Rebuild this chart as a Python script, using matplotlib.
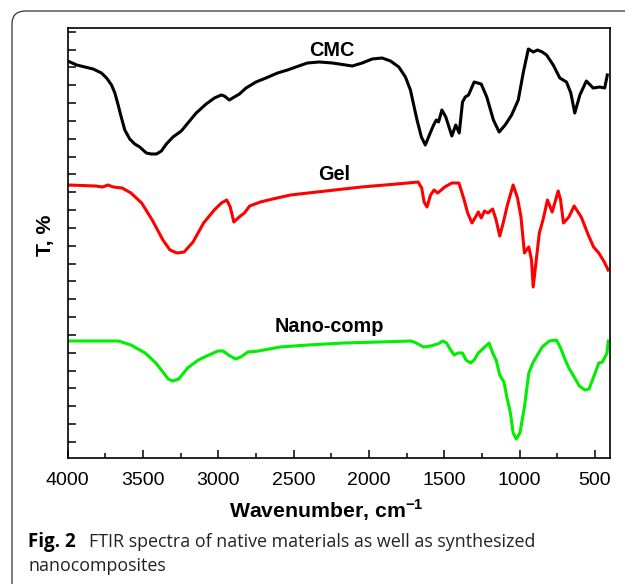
import numpy as np
import matplotlib
matplotlib.use("Agg")
import matplotlib.pyplot as plt
from matplotlib.patches import FancyBboxPatch

plt.rcParams['font.family'] = ['Liberation Sans', 'DejaVu Sans']
plt.rcParams['mathtext.fontset'] = 'custom'
plt.rcParams['mathtext.rm'] = 'Liberation Sans'
plt.rcParams['mathtext.bf'] = 'Liberation Sans:bold'

# FTIR spectra (arbitrary offset transmittance units)
cmc_wn = [4000, 3940, 3886, 3831, 3776, 3742, 3709, 3687, 3665, 3643, 3621, 3588, 3555, 3522,
          3478, 3445, 3411, 3378, 3345, 3301, 3246, 3202, 3147, 3081, 3026, 2981, 2960, 2927,
          2894, 2860, 2816, 2750, 2684, 2607, 2541, 2485, 2409, 2331, 2243, 2199, 2111, 2045,
          1979, 1913, 1857, 1802, 1758, 1725, 1703, 1681, 1652, 1626, 1599, 1571, 1553, 1538,
          1516, 1490, 1450, 1424, 1401, 1379, 1361, 1339, 1302, 1255, 1218, 1174, 1136, 1096,
          1053, 1009, 975, 942, 909, 881, 850, 821, 777, 733, 689, 660, 634, 600, 557, 512,
          468, 435, 418]
cmc_t = [397, 393, 391, 389, 385, 380, 373, 365, 353, 340, 328, 319, 314, 311,
         305, 304, 304, 307, 314, 321, 327, 335, 345, 354, 360, 363, 362, 358,
         361, 364, 370, 376, 380, 385, 388, 391, 395, 396, 395, 394, 392, 395,
         399, 400, 397, 391, 381, 368, 353, 338, 321, 313, 323, 333, 338, 336,
         348, 341, 322, 333, 325, 356, 361, 363, 376, 374, 361, 338, 326, 333,
         343, 358, 386, 409, 406, 408, 406, 403, 393, 380, 376, 365, 345, 363, 377, 370,
         371, 370, 383]

gel_wn = [4000, 3815, 3768, 3733, 3698, 3639, 3580, 3509, 3439, 3368, 3321, 3274, 3227, 3168,
          3098, 3027, 2980, 2944, 2921, 2897, 2862, 2827, 2792, 2721, 2639, 2521, 2286, 2050,
          1815, 1674, 1650, 1634, 1615, 1591, 1568, 1544, 1497, 1450, 1403, 1368, 1345, 1316,
          1293, 1274, 1255, 1233, 1210, 1179, 1156, 1132, 1109, 1081, 1043, 1014, 991, 968,
          939, 921, 910, 869, 845, 815, 784, 761, 744, 728, 709, 673, 638, 591, 544, 509,
          474, 438, 412]
gel_t = [273, 272, 271, 273, 271, 270, 265, 255, 238, 218, 208, 205, 206, 216,
         235, 248, 255, 258, 251, 236, 241, 245, 252, 256, 259, 263, 267, 271,
         274, 276, 270, 256, 251, 263, 268, 265, 271, 275, 275, 258, 245, 235,
         241, 246, 240, 247, 245, 249, 238, 222, 235, 253, 273, 260, 241, 205,
         211, 198, 171, 225, 238, 258, 246, 258, 267, 258, 235, 241, 252, 241, 223, 211,
         205, 196, 188]

nano_wn = [4000, 3815, 3663, 3580, 3486, 3415, 3368, 3333, 3302, 3263, 3204, 3133, 3062, 3003,
           2968, 2933, 2886, 2851, 2804, 2733, 2592, 2403, 2168, 1932, 1721, 1686, 1638, 1591,
           1544, 1509, 1485, 1462, 1434, 1410, 1379, 1356, 1325, 1302, 1274, 1238, 1203, 1179,
           1156, 1132, 1104, 1085, 1061, 1043, 1022, 998, 968, 939, 909, 850, 803, 756, 728,
           697, 673, 638, 603, 567, 539, 509, 474, 450, 420, 412]
nano_t = [117, 117, 117, 113, 105, 95, 86, 79, 77, 79, 90, 98, 103, 107,
          107, 103, 99, 101, 106, 107, 111, 113, 115, 116, 117, 115, 111, 112,
          114, 117, 115, 109, 103, 105, 105, 98, 95, 98, 105, 110, 115, 105,
          98, 83, 76, 61, 45, 25, 19, 25, 51, 85, 96, 111, 117, 118, 110,
          98, 90, 81, 72, 68, 69, 81, 95, 96, 105, 117]

labels = ["CMC", "Gel", "Nano-comp"]
label_pos = [(2249, 408), (2232, 283), (2262, 132)]
colors = ["#000000", "#ff0000", "#00ee00"]

fig = plt.figure(figsize=(6.25, 5.84), dpi=100)

# rounded journal frame
frame = FancyBboxPatch((12 / 625, -0.1), 1.2, 1.1 - 11 / 584,
                       boxstyle="round,pad=0,rounding_size=0.022",
                       transform=fig.transFigure, fill=False,
                       edgecolor="#333333", linewidth=0.9, clip_on=False)
fig.patches.append(frame)

ax = fig.add_axes([67.7 / 625, 126 / 584, 542.3 / 625, 430 / 584])

for wn, t, c in zip([cmc_wn, gel_wn, nano_wn], [cmc_t, gel_t, nano_t], colors):
    ax.plot(wn, t, color=c, linewidth=2.2, solid_joinstyle="round")

for lab, (px, py) in zip(labels, label_pos):
    ax.text(px, py, lab, fontsize=14.3, fontweight="bold", ha="center", va="center")

ax.set_xlim(4000, 400)
ax.set_ylim(0, 430)
ax.set_xticks([4000, 3500, 3000, 2500, 2000, 1500, 1000, 500])
ax.set_xticks(np.arange(3750, 400, -500), minor=True)
ax.set_yticks(np.arange(16, 430, 17.84))
ax.set_yticklabels([])
ax.tick_params(axis="x", which="major", direction="in", length=6, width=1.1,
               labelsize=14, pad=10)
ax.tick_params(axis="x", which="minor", direction="in", length=3.5, width=1.1)
ax.tick_params(axis="y", direction="in", length=6, width=1.1)
for s in ax.spines.values():
    s.set_linewidth(1.2)

ax.set_xlabel("Wavenumber, cm$^{\\mathbf{-1}}$", fontsize=15.3, fontweight="bold")
ax.xaxis.set_label_coords((326.5 - 67.7) / 542.3, -(497 - 458) / 430, transform=ax.transAxes)
ax.set_ylabel("T, %", fontsize=15.3, fontweight="bold")
ax.yaxis.set_label_coords(-(67.7 - 55) / 542.3, (458 - 235) / 430, transform=ax.transAxes)

fig.text(28 / 625, 1 - 542 / 584, "Fig. 2", fontsize=13.5, fontweight="bold",
         family="Open Sans", va="center", ha="left")
fig.text(89 / 625, 1 - 542 / 584, "FTIR spectra of native materials as well as synthesized",
         fontsize=12.9, family="Open Sans", va="center", ha="left", color="#222222")
fig.text(28 / 625, 1 - 566 / 584, "nanocomposites",
         fontsize=12.9, family="Open Sans", va="center", ha="left", color="#222222")

fig.savefig("out.png", dpi=100)
